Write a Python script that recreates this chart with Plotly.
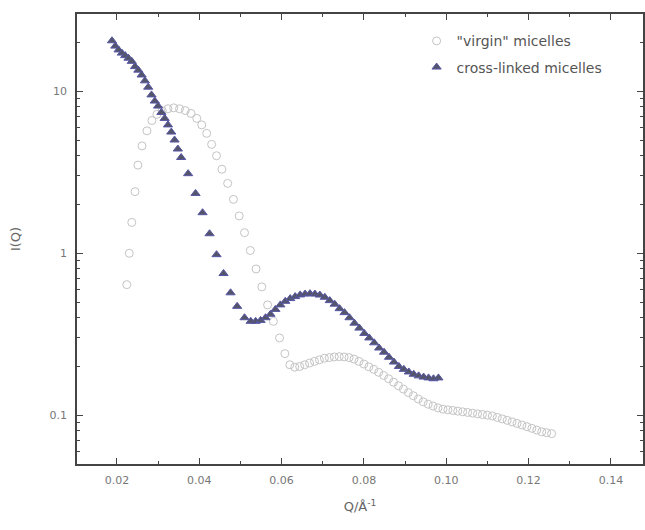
import plotly.graph_objects as go

# cross-linked micelles (filled triangles)
q_cross = [0.0188, 0.0196, 0.0204, 0.0212, 0.0220, 0.0228, 0.0236, 0.0244, 0.0252, 0.0260,
           0.0268, 0.0276, 0.0284, 0.0292, 0.0300, 0.0308, 0.0316, 0.0324, 0.0332, 0.0340,
           0.0348, 0.0356, 0.0373, 0.0391, 0.0408, 0.0425, 0.0442, 0.0459, 0.0476, 0.0492,
           0.0510, 0.0525, 0.0537, 0.0549, 0.0561, 0.0573, 0.0585, 0.0597, 0.0609, 0.0621,
           0.0633, 0.0645, 0.0657, 0.0669, 0.0681, 0.0693, 0.0705, 0.0717, 0.0729, 0.0741,
           0.0753, 0.0765, 0.0777, 0.0789, 0.0801, 0.0813, 0.0825, 0.0837, 0.0849, 0.0861,
           0.0873, 0.0885, 0.0897, 0.0909, 0.0921, 0.0933, 0.0945, 0.0957, 0.0969, 0.0981]
i_cross = [20.5, 19.0, 18.0, 17.2, 16.6, 16.0, 15.3, 14.2, 13.5, 12.6,
           11.6, 10.6, 9.5, 8.7, 8.1, 7.4, 6.8, 6.2, 5.6, 5.0,
           4.4, 3.9, 3.10, 2.34, 1.78, 1.32, 0.98, 0.75, 0.57, 0.47,
           0.40, 0.38, 0.38, 0.385, 0.40, 0.42, 0.45, 0.48, 0.505, 0.525,
           0.54, 0.553, 0.56, 0.563, 0.56, 0.552, 0.535, 0.51, 0.485, 0.455,
           0.43, 0.40, 0.37, 0.345, 0.32, 0.30, 0.28, 0.26, 0.245, 0.228,
           0.213, 0.200, 0.192, 0.185, 0.179, 0.175, 0.172, 0.170, 0.168, 0.170]

# "virgin" micelles (open circles)
q_virgin = [0.0224, 0.0230, 0.0236, 0.0244, 0.0251, 0.0261, 0.0273, 0.0285, 0.0297, 0.0310,
            0.0324, 0.0338, 0.0352, 0.0366, 0.0380, 0.0394, 0.0406, 0.0418, 0.0430, 0.0442,
            0.0455, 0.0469, 0.0483, 0.0497, 0.0510, 0.0524, 0.0538, 0.0552, 0.0566, 0.0580,
            0.0595, 0.0608, 0.0620, 0.0632, 0.0644, 0.0656, 0.0668, 0.0680, 0.0692, 0.0704,
            0.0716, 0.0728, 0.0740, 0.0752, 0.0764, 0.0776, 0.0788, 0.0800, 0.0812, 0.0824,
            0.0836, 0.0848, 0.0860, 0.0872, 0.0884, 0.0896, 0.0908, 0.0920, 0.0932, 0.0944,
            0.0956, 0.0968, 0.0980, 0.0992, 0.1004, 0.1016, 0.1028, 0.1040, 0.1052, 0.1064,
            0.1076, 0.1088, 0.1100, 0.1112, 0.1124, 0.1136, 0.1148, 0.1160, 0.1172, 0.1184,
            0.1196, 0.1208, 0.1220, 0.1232, 0.1244, 0.1256]
i_virgin = [0.64, 1.0, 1.55, 2.4, 3.5, 4.6, 5.7, 6.6, 7.2, 7.6,
            7.8, 7.9, 7.8, 7.6, 7.3, 6.8, 6.2, 5.5, 4.7, 4.0,
            3.3, 2.7, 2.15, 1.7, 1.34, 1.04, 0.80, 0.62, 0.48, 0.38,
            0.30, 0.24, 0.205, 0.198, 0.200, 0.205, 0.21, 0.215, 0.22, 0.225,
            0.227, 0.229, 0.23, 0.229, 0.227, 0.222, 0.215, 0.207, 0.199, 0.192,
            0.184, 0.176, 0.168, 0.160, 0.152, 0.145, 0.138, 0.132, 0.126, 0.121,
            0.117, 0.114, 0.111, 0.109, 0.108, 0.107, 0.106, 0.105, 0.104, 0.103,
            0.102, 0.101, 0.100, 0.099, 0.097, 0.095, 0.093, 0.091, 0.089, 0.087,
            0.085, 0.083, 0.081, 0.079, 0.078, 0.077]

x_ticks = [0.02, 0.04, 0.06, 0.08, 0.10, 0.12, 0.14]
x_tick_labels = ["0.02", "0.04", "0.06", "0.08", "0.10", "0.12", "0.14"]
x_minor = [0.01, 0.03, 0.05, 0.07, 0.09, 0.11, 0.13]
y_ticks = [0.1, 1, 10]
y_tick_labels = ["0.1", "1", "10"]
y_minor = [0.05, 0.06, 0.07, 0.08, 0.09, 0.2, 0.3, 0.4, 0.5, 0.6, 0.7, 0.8, 0.9,
           2, 3, 4, 5, 6, 7, 8, 9, 20]

fig = go.Figure()
fig.add_trace(go.Scatter(
    x=q_virgin, y=i_virgin, mode="markers", name='"virgin" micelles', legendgroup="a",
    marker=dict(symbol="circle-open", size=8, color="#c4c4c4", line=dict(width=1))))
fig.add_trace(go.Scatter(
    x=q_cross, y=i_cross, mode="markers", name="cross-linked micelles", legendgroup="b",
    marker=dict(symbol="triangle-up", size=8, color="#55556a",
                line=dict(width=1, color="#5656a6"))))

axis_common = dict(showline=True, linecolor="#444", linewidth=1.5, mirror="ticks",
                   ticks="inside", ticklen=6, tickcolor="#444", showgrid=False, zeroline=False,
                   automargin=False,
                   tickfont=dict(family="DejaVu Sans", size=11, color="#777"))

fig.update_xaxes(range=[0.0103, 0.1478], tickvals=x_ticks, ticktext=x_tick_labels,
                 ticklabelstandoff=5,
                 minor=dict(tickvals=x_minor, ticks="inside", ticklen=3, tickcolor="#444"),
                 title=dict(text="Q/Å<sup>-1</sup>", font=dict(family="DejaVu Sans", size=13, color="#666"),
                            standoff=16),
                 **axis_common)
fig.update_yaxes(type="log", range=[-1.301, 1.477], tickvals=y_ticks, ticktext=y_tick_labels,
                 ticklabelstandoff=6,
                 minor=dict(tickvals=y_minor, ticks="inside", ticklen=3, tickcolor="#444"),
                 title=dict(text="I(Q)", font=dict(family="DejaVu Sans", size=13, color="#666"),
                            standoff=26),
                 **axis_common)

fig.update_layout(
    width=645, height=530,
    margin=dict(l=77, r=2, t=14, b=66),
    paper_bgcolor="white", plot_bgcolor="white",
    legend=dict(x=0.6, xanchor="left", y=0.975, yanchor="top", bgcolor="rgba(0,0,0,0)",
                traceorder="grouped", tracegroupgap=5,
                font=dict(family="DejaVu Sans", size=14, color="#555"), itemwidth=30),
)

fig.write_html("out.html", config={"displayModeBar": False},
               post_script="document.body.style.margin='0';document.body.style.overflow='hidden';")
